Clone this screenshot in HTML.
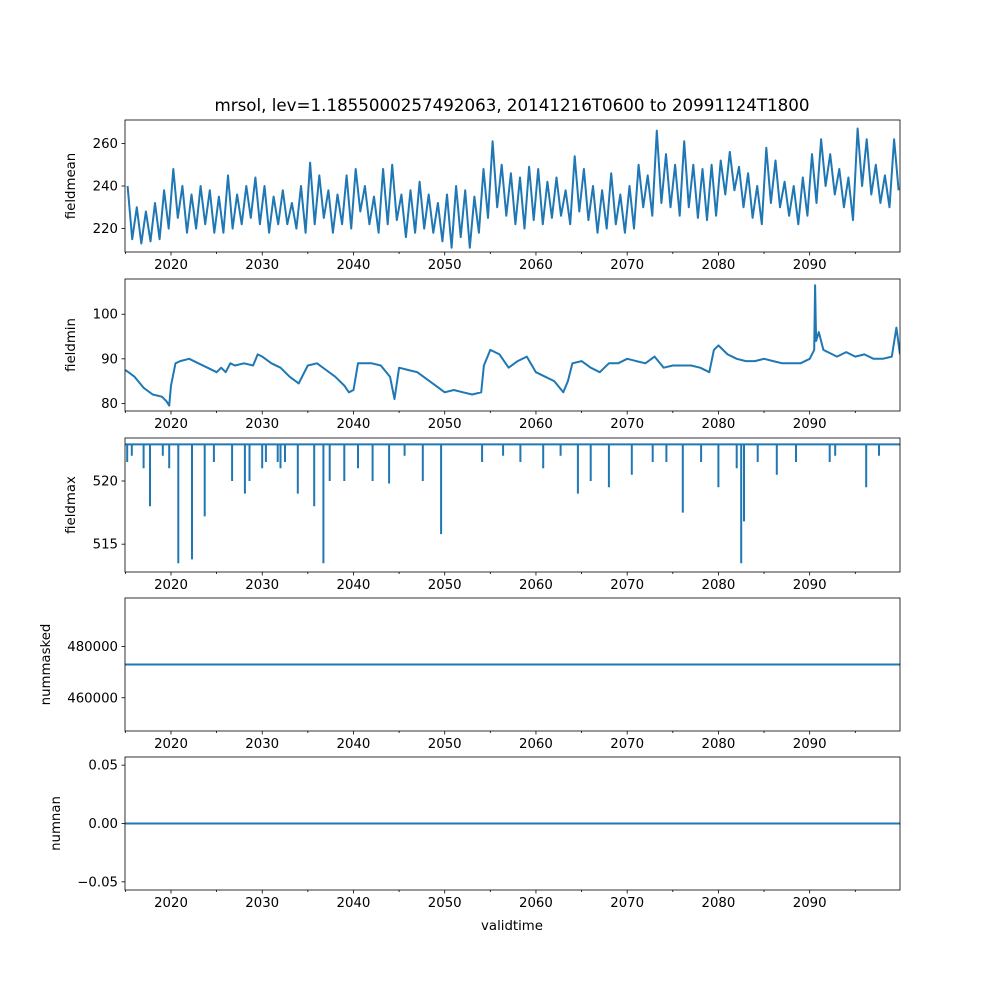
<!DOCTYPE html>
<html><head><meta charset="utf-8"><style>
body{margin:0;background:#fff}
svg{font-family:"DejaVu Sans","Liberation Sans",sans-serif;font-size:13.3px}
</style></head><body>
<svg id="fig" width="1000" height="1000" xmlns="http://www.w3.org/2000/svg">
<rect width="1000" height="1000" fill="#fff"/>
<text x="512" y="111" text-anchor="middle" font-size="16.7">mrsol, lev=1.1855000257492063, 20141216T0600 to 20991124T1800</text>
<text x="512" y="930" text-anchor="middle">validtime</text>
</svg>
<script>
const meanPeaksTroughs=[240,215,230,213,228,214,232,215,238,220,248,225,240,218,236,220,240,222,238,218,235,218,245,220,236,222,240,225,244,222,240,218,235,222,238,222,232,220,240,218,251,222,245,225,238,218,236,222,245,220,248,228,240,222,235,218,248,222,250,224,236,216,238,218,242,220,236,218,232,214,236,211,240,216,238,211,235,218,248,225,261,230,250,226,246,222,244,220,249,224,248,222,242,225,244,226,238,222,254,228,248,224,240,218,238,220,246,222,236,218,240,220,250,230,245,226,266,232,255,230,250,226,261,230,250,225,248,224,250,226,252,236,256,238,249,230,246,225,240,222,258,232,252,230,242,226,240,222,244,226,255,232,262,240,255,236,248,230,244,224,267,240,262,236,250,232,245,230,262,238];
const minYears=[2015,2016,2017,2018,2019,2019.5,2019.8,2020,2020.5,2021,2022,2023,2024,2025,2025.5,2026,2026.5,2027,2028,2029,2029.5,2030,2031,2032,2033,2034,2035,2036,2037,2038,2039,2039.5,2040,2040.5,2041,2042,2043,2044,2044.5,2045,2046,2047,2048,2049,2050,2051,2052,2053,2054,2054.3,2055,2056,2057,2058,2059,2060,2061,2062,2063,2063.5,2064,2065,2066,2067,2068,2069,2070,2071,2072,2073,2074,2075,2076,2077,2078,2079,2079.5,2080,2081,2082,2083,2084,2085,2086,2087,2088,2089,2090,2090.5,2090.6,2090.7,2091,2091.5,2092,2093,2094,2095,2096,2097,2098,2099,2099.5,2099.9];
const minValues=[87.5,86,83.5,82,81.5,80.5,79.5,84,89,89.5,90,89,88,87,88,87,89,88.5,89,88.5,91,90.5,89,88,86,84.5,88.5,89,87.5,86,84,82.5,83,89,89,89,88.5,86,81,88,87.5,87,85.5,84,82.5,83,82.5,82,82.5,88.5,92,91,88,89.5,90.5,87,86,85,82.5,85,89,89.5,88,87,89,89,90,89.5,89,90.5,88,88.5,88.5,88.5,88,87,92,93,91,90,89.5,89.5,90,89.5,89,89,89,90,92,106.5,94,96,92,91.5,90.5,91.5,90.5,91,90,90,90.5,97,91];
const maxBaseline=522.9;
const spikeYears=[2015.2,2015.7,2017,2017.7,2019.1,2019.8,2020.8,2022.3,2023.7,2024.7,2026.7,2028.1,2028.6,2030,2030.4,2031.7,2032,2032.5,2033.9,2035.7,2036.7,2037.4,2039,2040.5,2042.1,2043.9,2045.6,2047.6,2049.6,2054.1,2056.4,2058.3,2060.8,2062.7,2064.6,2066,2068,2070.5,2072.8,2074.3,2076.1,2078.1,2080,2082,2082.5,2082.8,2084.3,2086.4,2088.5,2092.2,2092.8,2096.2,2097.6];
const spikeValues=[521.5,522,521,518,522,521,513.5,513.8,517.2,521.5,520,519,520,521,521.5,521.5,521,521.5,519,518,513.5,520,520,521,520,519.8,522,520,515.8,521.5,522,521.5,521,522,519,520,519.5,520.5,521.5,521.5,517.5,521.5,519.5,521,513.5,516.8,521.5,520.5,521.5,521.5,522,519.5,522];
const nummaskedValue=473000;
const numnanValue=0;
const panels=[
 {name:'fieldmean',top:120,bot:252,ymin:209,ymax:271,ticks:[220,240,260],labels:['220','240','260'],tx:75},
 {name:'fieldmin',top:279,bot:411,ymin:78.3,ymax:107.9,ticks:[80,90,100],labels:['80','90','100'],tx:75},
 {name:'fieldmax',top:438,bot:572,ymin:512.8,ymax:523.4,ticks:[515,520],labels:['515','520'],tx:75},
 {name:'nummasked',top:598,bot:731,ymin:447000,ymax:499000,ticks:[460000,480000],labels:['460000','480000'],tx:50},
 {name:'numnan',top:757,bot:890,ymin:-0.057,ymax:0.057,ticks:[-0.05,0,0.05],labels:['\u22120.05','0.00','0.05'],tx:60}
];
const NS='http://www.w3.org/2000/svg',svg=document.getElementById('fig');
const X0=125,X1=900,T0=2014.96,T1=2099.9;
const xs=t=>X0+(t-T0)/(T1-T0)*(X1-X0);
function el(tag,attrs,parent){const e=document.createElementNS(NS,tag);for(const k in attrs)e.setAttribute(k,attrs[k]);(parent||svg).appendChild(e);return e;}
const C='#1f77b4';
panels.forEach((p,i)=>{
 const g=el('g',{});
 
 
 const ys=v=>p.bot-(v-p.ymin)/(p.ymax-p.ymin)*(p.bot-p.top);
 const cp=el('clipPath',{id:'c'+i},g);el('rect',{x:X0,y:p.top,width:X1-X0,height:p.bot-p.top},cp);
 const dg=el('g',{'clip-path':'url(#c'+i+')'},g);
 let d='';
 if(i===0){meanPeaksTroughs.forEach((v,k)=>{const t=2015+Math.floor(k/2)+(k%2?0.75:0.25);d+=(k?'L':'M')+xs(t).toFixed(1)+','+ys(v).toFixed(1);});}
 if(i===1){minValues.forEach((v,k)=>{d+=(k?'L':'M')+xs(minYears[k]).toFixed(1)+','+ys(v).toFixed(1);});}
 if(i===2){d='M'+X0+','+ys(maxBaseline)+'L'+X1+','+ys(maxBaseline);spikeValues.forEach((v,k)=>{const x=xs(spikeYears[k]).toFixed(1);d+='M'+x+','+ys(maxBaseline)+'L'+x+','+ys(v).toFixed(1);});}
 if(i===3){d='M'+X0+','+ys(nummaskedValue)+'L'+X1+','+ys(nummaskedValue);}
 if(i===4){d='M'+X0+','+ys(numnanValue)+'L'+X1+','+ys(numnanValue);}
 const line=el('path',{d:d,fill:'none',stroke:C,'stroke-width':2,'stroke-linejoin':'round'},dg);
 
 
 const fr=el('rect',{x:X0,y:p.top,width:X1-X0,height:p.bot-p.top,fill:'none',stroke:'#000','stroke-width':0.8},g);
 
 
 p.ticks.forEach((v,k)=>{const y=ys(v);el('line',{x1:X0-3.5,x2:X0,y1:y,y2:y,stroke:'#000','stroke-width':0.8},g);
  const tx=el('text',{x:X0-7,y:y+4.5,'text-anchor':'end'},g);tx.textContent=p.labels[k];
  
  });
 const yl=el('text',{transform:'translate('+p.tx+','+((p.top+p.bot)/2)+') rotate(-90)','text-anchor':'middle'},g);
 yl.textContent=p.name;
 
 
 for(let t=2015;t<=2095;t+=5){const x=xs(t);const major=t%10===0;el('line',{x1:x,x2:x,y1:p.bot,y2:p.bot+(major?3.5:2),stroke:'#000','stroke-width':0.8},g);
  if(major){const tx=el('text',{x:x,y:p.bot+17,'text-anchor':'middle'},g);tx.textContent=t;
   
   }}
});
</script>
</body></html>
